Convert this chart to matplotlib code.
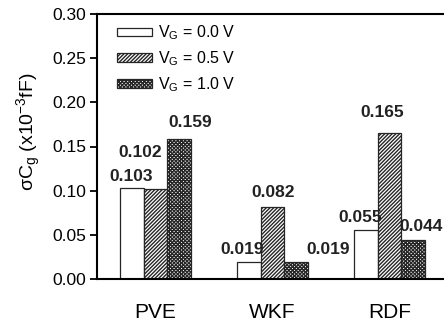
import numpy as np
import matplotlib
matplotlib.use('Agg')
import matplotlib.pyplot as plt

plt.rcParams['font.family'] = ['Liberation Sans', 'DejaVu Sans']
plt.rcParams['hatch.linewidth'] = 1.0
plt.rcParams['hatch.color'] = '#202020'

# data
categories = ['PVE', 'WKF', 'RDF']
series_labels = [r'$\mathregular{V_G}$ = 0.0 V', r'$\mathregular{V_G}$ = 0.5 V', r'$\mathregular{V_G}$ = 1.0 V']
vg_00 = [0.103, 0.019, 0.055]
vg_05 = [0.102, 0.082, 0.165]
vg_10 = [0.159, 0.019, 0.044]
value_text = [['0.103', '0.019', '0.055'],
              ['0.102', '0.082', '0.165'],
              ['0.159', '0.019', '0.044']]
yticks = [0.00, 0.05, 0.10, 0.15, 0.20, 0.25, 0.30]

# label offsets (pixels) from each bar top, per series / category
label_offsets = [[(-1, 7), (-7, 8), (-6, 8)],
                 [(-15, 32), (1, 10), (-7, 16)],
                 [(11, 12), (32, 8), (8, 9)]]

fig = plt.figure(figsize=(4.44, 3.22), dpi=100)
ax = fig.add_axes([97 / 444, 43 / 322, 351 / 444, 265 / 322])

x = np.arange(len(categories))
width = 0.2
hatches = [None, '/' * 9, 'x' * 9]

for i, vals in enumerate([vg_00, vg_05, vg_10]):
    bars = ax.bar(x + (i - 1) * width, vals, width, label=series_labels[i],
                  facecolor='white', hatch=hatches[i],
                  edgecolor='0.15', linewidth=0.9)
    for j, b in enumerate(bars):
        dx, dy = label_offsets[i][j]
        ax.annotate(value_text[i][j], (b.get_x() + b.get_width() / 2, b.get_height()),
                    xytext=(dx, dy), textcoords='offset pixels',
                    ha='center', va='baseline', fontsize=12.5, fontweight='bold',
                    color='#222222', annotation_clip=False)

ax.set_xlim(-0.5, 2.5)
ax.set_ylim(0, 0.30)
ax.set_yticks(yticks)
ax.set_yticklabels([f'{t:.2f}' for t in yticks], fontsize=12.5)
ax.set_xticks(x)
ax.set_xticklabels(categories, fontsize=15)
ax.tick_params(axis='x', length=0, pad=17)
ax.tick_params(axis='y', direction='out', length=5, width=1.3, pad=3)
for s in ax.spines.values():
    s.set_linewidth(1.5)
ax.spines['right'].set_visible(False)

ax.set_ylabel(r'σ$\mathregular{C_g}$ (x10$\mathregular{^{-3}}$fF)', fontsize=14)
ax.yaxis.set_label_coords(-0.155, 0.555)

ax.legend(loc='upper left', bbox_to_anchor=(0.03, 1.0), frameon=False,
          fontsize=11.5, handlelength=2.2, handleheight=0.45,
          handletextpad=0.35, labelspacing=0.45, borderaxespad=0.2)

plt.savefig('out.png', dpi=100)
